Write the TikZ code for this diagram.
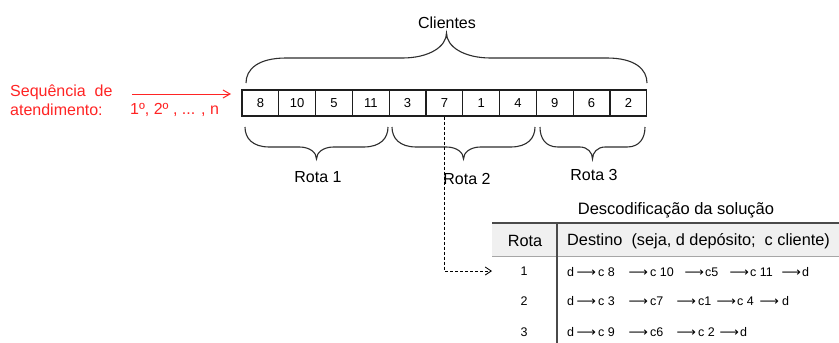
\documentclass[tikz,border=0pt]{standalone}
\usepackage{fontspec}
\setmainfont{Liberation Sans}
\newfontfamily\arrf{DejaVu Sans}
\usepackage{graphicx}
\usetikzlibrary{arrows.meta}
\definecolor{redt}{HTML}{FF2424}
\definecolor{linec}{HTML}{1E1E1E}
\definecolor{bracec}{HTML}{2E2E2E}
\definecolor{tabc}{HTML}{4A4A4A}
\definecolor{hdr}{HTML}{F0F0F0}
\newcommand\fs[1]{\fontsize{#1}{#1}\selectfont}
\newcommand\tk[2]{\makebox[#1pt][l]{#2}}
\newcommand\rw[1]{\makebox[#1pt][l]{\kern1.5pt\scalebox{1.08}[1]{\arrf ⟶}}}
% x1, x2, yend, ymid, ytip, end-curve fraction, flat-end fraction
\newcommand\curly[7]{%
  \pgfmathsetmacro\bxa{#1+#6*(#2-#1)}%
  \pgfmathsetmacro\bxc{#1+0.3*#6*(#2-#1)}%
  \pgfmathsetmacro\bxb{#1+#7*(#2-#1)}%
  \pgfmathsetmacro\bxd{#1+(#7+0.6*(0.5-#7))*(#2-#1)}%
  \pgfmathsetmacro\rxa{#2-#6*(#2-#1)}%
  \pgfmathsetmacro\rxc{#2-0.3*#6*(#2-#1)}%
  \pgfmathsetmacro\rxb{#2-#7*(#2-#1)}%
  \pgfmathsetmacro\rxd{#2-(#7+0.6*(0.5-#7))*(#2-#1)}%
  \pgfmathsetmacro\bxm{0.5*(#1+#2)}%
  \pgfmathsetmacro\bye{#3+0.55*(#4-#3)}%
  \pgfmathsetmacro\byt{#4+0.45*(#5-#4)}%
  \draw[bracel] (#1,#3) .. controls (#1,\bye) and (\bxc,#4) .. (\bxa,#4)
   -- (\bxb,#4) .. controls (\bxd,#4) and (\bxm,\byt) .. (\bxm,#5)
   .. controls (\bxm,\byt) and (\rxd,#4) .. (\rxb,#4)
   -- (\rxa,#4) .. controls (\rxc,#4) and (#2,\bye) .. (#2,#3);}
\begin{document}
\begin{tikzpicture}[x=1pt,y=-1pt,
  cell/.style={draw=linec,line width=1.2pt,minimum width=36.8pt,minimum height=26pt,inner sep=0pt,font=\fs{13}},
  lbl/.style={inner sep=0pt,font=\fs{16},text=black},
  redl/.style={inner sep=0pt,font=\fs{16},text=redt,anchor=west},
  rowl/.style={inner sep=0pt,font=\fs{12.5},anchor=west},
  bracel/.style={draw=bracec,line width=1.1pt},
  dasharr/.style={draw=black,line width=0.9pt,dash pattern=on 3pt off 2pt,-{Straight Barb[length=6pt,width=8pt]}},
  redarr/.style={draw=redt,line width=1pt,-{Straight Barb[length=7pt,width=8pt]}}]
\useasboundingbox (0,0) rectangle (839,343);
\fill[white] (0,0) rectangle (839,343);

% cells
\foreach \v [count=\i] in {8,10,5,11,3,7,1,4,9,6,2}
  \node[cell] (c\i) at ({242+36.8*(\i-0.5)},103) {\v};

% braces
\curly{246}{647}{83}{58}{33}{0.1}{0.39}
\curly{245}{388}{127}{147}{159}{0.17}{0.38}
\curly{392}{535}{127}{147}{159}{0.17}{0.38}
\curly{540}{645}{127}{147}{159}{0.17}{0.38}

\node[lbl] (cl) at (447,23) {Clientes};
\node[lbl] (rt1) at (318,177) {Rota 1};
\node[lbl] (rt2) at (467,179) {Rota 2};
\node[lbl] (rt3) at (594,175) {Rota 3};

% red labels
\node[redl] (s1) at (10,92) {Sequência\ \ de};
\node[redl] (s2) at (10,110) {atendimento:};
\node[redl] (s3) at (130,110) {1º, 2º , ... , n};
\coordinate (ra1) at (132,94);
\coordinate (ra2) at (231,94);
\draw[redarr] (ra1) -- (ra2);

% table
\fill[hdr] (492,223) rectangle (839,256);
\coordinate (tl) at (492,223);
\coordinate (tr) at (839,223);
\coordinate (hl) at (492,256);
\coordinate (hr) at (839,256);
\coordinate (vt) at (557,223);
\coordinate (vb) at (557,343);
\draw[draw=tabc,line width=2pt] (tl) -- (tr);
\draw[draw=gray!70,line width=0.8pt] (hl) -- (hr);
\draw[draw=tabc,line width=1.8pt] (vt) -- (vb);

\node[lbl,font=\fs{16.5}] (tt) at (676,210) {Descodificação da solução};
\node[lbl,font=\fs{16.3}] (hrota) at (525,241) {Rota};
\node[lbl,font=\fs{16.3},anchor=west] (hdest) at (567,241) {Destino\ \ (seja, d depósito;\ \ c cliente)};

\node[lbl,font=\fs{12.5}] (r1) at (524,271) {1};
\node[lbl,font=\fs{12.5}] (r2) at (524,301) {2};
\node[lbl,font=\fs{12.5}] (r3) at (524,332) {3};
\node[rowl] (d1) at (567,272) {\tk{8}{d}\rw{23}\tk{29}{c 8}\rw{23}\tk{33}{c 10}\rw{22}\tk{23}{c5}\rw{22}\tk{30}{c 11}\rw{22}d};
\node[rowl] (d2) at (567,301) {\tk{8}{d}\rw{23}\tk{29}{c 3}\rw{23}\tk{25}{c7}\rw{23}\tk{17}{c1}\rw{22}\tk{21}{c 4}\rw{24}d};
\node[rowl] (d3) at (567,332) {\tk{8}{d}\rw{23}\tk{29}{c 9}\rw{23}\tk{25}{c6}\rw{23}\tk{20}{c 2}\rw{22}d};

% dashed connector
\coordinate (ae) at (492,271);
\draw[dasharr] (c6.south) |- (ae);
\end{tikzpicture}
\end{document}
